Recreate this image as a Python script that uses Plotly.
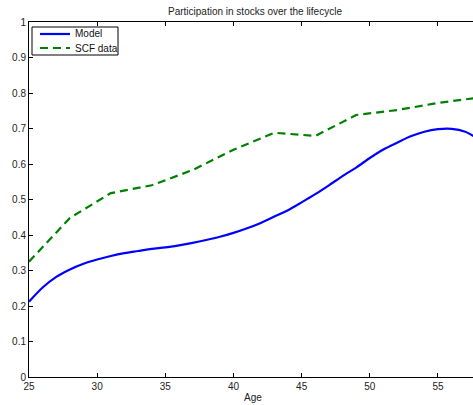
import plotly.graph_objects as go

ages_model = list(range(25, 59))
model = [0.212, 0.252, 0.282, 0.303, 0.319, 0.331, 0.341, 0.349, 0.355, 0.361,
         0.365, 0.371, 0.378, 0.386, 0.395, 0.406, 0.419, 0.434, 0.452, 0.470,
         0.492, 0.515, 0.540, 0.566, 0.590, 0.617, 0.641, 0.660, 0.678, 0.691,
         0.698, 0.699, 0.691, 0.670]

ages_scf = [25, 28, 31, 34, 37, 40, 43, 46, 49, 52, 55, 58]
scf = [0.325, 0.448, 0.518, 0.540, 0.583, 0.640, 0.688, 0.679, 0.738, 0.752, 0.772, 0.787]

x_ticks = [25, 30, 35, 40, 45, 50, 55]
y_ticks = [0, 0.1, 0.2, 0.3, 0.4, 0.5, 0.6, 0.7, 0.8, 0.9, 1]
y_tick_labels = ["0", "0.1", "0.2", "0.3", "0.4", "0.5", "0.6", "0.7", "0.8", "0.9", "1"]

series_names = ["Model", "SCF data"]
series_colors = ["#0000ff", "#008000"]
series_dash = ["solid", "8px,5px"]

FONT = "Liberation Sans, Arial, sans-serif"
W, H = 473, 405
L, R, T = 29, 0, 22
B = H - 377
PW, PH = W - L - R, H - T - B


def px_x(p):
    return (p - L) / PW


def px_y(p):
    return (H - B - p) / PH


fig = go.Figure()
fig.add_trace(go.Scatter(x=ages_model, y=model, mode="lines", name=series_names[0],
                         line=dict(color=series_colors[0], width=2.2, shape="spline", smoothing=0.8)))
fig.add_trace(go.Scatter(x=ages_scf, y=scf, mode="lines", name=series_names[1],
                         line=dict(color=series_colors[1], width=2.2, dash=series_dash[1])))

shapes = [dict(type="rect", xref="paper", yref="paper",
               x0=px_x(32), x1=px_x(118), y0=px_y(55), y1=px_y(27),
               line=dict(color="black", width=1), fillcolor="white", layer="above")]
annotations = []
for i, (nm, col, dsh) in enumerate(zip(series_names, series_colors, series_dash)):
    yy = px_y(34 + 14 * i)
    shapes.append(dict(type="line", xref="paper", yref="paper",
                       x0=px_x(40), x1=px_x(70), y0=yy, y1=yy, layer="above",
                       line=dict(color=col, width=2.2, dash=dsh)))
    annotations.append(dict(text=nm, xref="paper", yref="paper", x=px_x(73), y=yy,
                            xanchor="left", yanchor="middle", showarrow=False,
                            font=dict(size=10, color="#111")))

annotations.append(dict(text="Participation in stocks over the lifecycle", xref="paper", yref="paper",
                        x=px_x(254.5), y=px_y(11), xanchor="center", yanchor="middle",
                        showarrow=False, font=dict(size=10, color="#222")))
annotations.append(dict(text="Age", xref="paper", yref="paper",
                        x=px_x(253), y=px_y(397), xanchor="center", yanchor="middle",
                        showarrow=False, font=dict(size=10, color="#222")))

fig.update_layout(
    width=W, height=H,
    margin=dict(l=L, r=R, t=T, b=B, pad=0),
    paper_bgcolor="white", plot_bgcolor="white",
    font=dict(family=FONT, size=10, color="#222"),
    showlegend=False,
    shapes=shapes, annotations=annotations,
)
fig.update_xaxes(range=[25, 57.57], tickvals=x_ticks, ticktext=[str(v) for v in x_ticks],
                 showgrid=False, zeroline=False, showline=True, linecolor="black", linewidth=1,
                 mirror="ticks", ticks="inside", ticklen=4, tickcolor="black", automargin=False)
fig.update_yaxes(range=[0, 1], tickvals=y_ticks, ticktext=y_tick_labels,
                 showgrid=False, zeroline=False, showline=True, linecolor="black", linewidth=1,
                 ticks="inside", ticklen=4, tickcolor="black", automargin=False)

fig.write_html("out.html", config={"displayModeBar": False, "staticPlot": True},
               post_script="document.body.style.margin='0';document.body.style.overflow='hidden';")
